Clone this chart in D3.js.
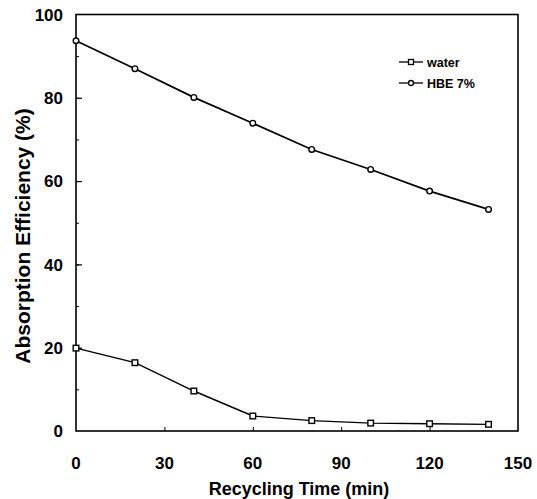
<!DOCTYPE html>
<html>
<head>
<meta charset="utf-8">
<script src="https://cdn.jsdelivr.net/npm/d3@7"></script>
<style>
  body { margin: 0; background: #fff; }
  svg { font-family: "Liberation Sans", Arial, sans-serif; }
</style>
</head>
<body>
<svg id="chart" width="537" height="499"></svg>
<script>
// values
var time = [0, 20, 40, 60, 80, 100, 120, 140];
var water = [19.9, 16.4, 9.6, 3.6, 2.5, 1.9, 1.75, 1.6];
var hbe = [93.7, 87.0, 80.1, 73.9, 67.6, 62.8, 57.6, 53.2];
var xTicks = [0, 30, 60, 90, 120, 150];
var yTicks = [0, 20, 40, 60, 80, 100];
var seriesNames = ["water", "HBE 7%"];

var svg = d3.select("#chart");
var x = d3.scaleLinear().domain([0, 150]).range([76, 518]);
var y = d3.scaleLinear().domain([0, 100]).range([431, 14.5]);

// frame
svg.append("rect")
    .attr("x", x(0)).attr("y", y(100))
    .attr("width", x(150) - x(0)).attr("height", y(0) - y(100))
    .attr("fill", "none").attr("stroke", "#000").attr("stroke-width", 1.6);

// y axis: inward ticks, labels on the left
var yAxis = svg.append("g").attr("transform", "translate(" + x(0) + ",0)")
    .call(d3.axisRight(y).tickValues(d3.range(10, 100, 10)).tickSize(3).tickFormat(""));
yAxis.select(".domain").remove();
yAxis.selectAll("line").attr("stroke-width", 1);
svg.append("g").attr("transform", "translate(" + x(0) + ",0)")
    .call(d3.axisRight(y).tickValues([20, 40, 60, 80]).tickSize(6).tickFormat(""))
    .call(function(g){ g.select(".domain").remove(); g.selectAll("line").attr("stroke-width", 1.2); });

svg.selectAll(".ylab").data(yTicks).enter().append("text")
    .attr("class", "ylab")
    .attr("x", 63).attr("y", function(d){ return y(d); })
    .attr("dy", "0.36em").attr("text-anchor", "end")
    .attr("font-size", 17).attr("font-weight", "bold")
    .text(function(d){ return d; });

// x axis: small inward ticks, labels below
svg.append("g").attr("transform", "translate(0," + y(0) + ")")
    .call(d3.axisTop(x).tickValues([30, 60, 90, 120]).tickSize(4).tickFormat(""))
    .call(function(g){ g.select(".domain").remove(); g.selectAll("line").attr("stroke-width", 1); });

svg.selectAll(".xlab").data(xTicks).enter().append("text")
    .attr("class", "xlab")
    .attr("x", function(d){ return x(d); }).attr("y", 469)
    .attr("text-anchor", "middle")
    .attr("font-size", 17).attr("font-weight", "bold")
    .text(function(d){ return d; });

svg.append("text")
    .attr("x", (x(0) + x(150)) / 2 + 2).attr("y", 495)
    .attr("text-anchor", "middle")
    .attr("font-size", 18).attr("font-weight", "bold")
    .text("Recycling Time (min)");

svg.append("text")
    .attr("transform", "translate(30,236) rotate(-90)")
    .attr("text-anchor", "middle")
    .attr("font-size", 21).attr("font-weight", "bold")
    .text("Absorption Efficiency (%)");

// lines
var line = d3.line()
    .x(function(d){ return x(d[0]); })
    .y(function(d){ return y(d[1]); });

var waterPts = d3.zip(time, water);
var hbePts = d3.zip(time, hbe);

svg.append("path").datum(hbePts).attr("d", line)
    .attr("fill", "none").attr("stroke", "#000").attr("stroke-width", 1.7);
svg.append("path").datum(waterPts).attr("d", line)
    .attr("fill", "none").attr("stroke", "#000").attr("stroke-width", 1.4);

svg.selectAll(".hbe").data(hbePts).enter().append("circle")
    .attr("class", "hbe")
    .attr("cx", function(d){ return x(d[0]); }).attr("cy", function(d){ return y(d[1]); })
    .attr("r", 2.8).attr("fill", "#fff").attr("stroke", "#000").attr("stroke-width", 1.4);

svg.selectAll(".wat").data(waterPts).enter().append("rect")
    .attr("class", "wat")
    .attr("x", function(d){ return x(d[0]) - 2.8; }).attr("y", function(d){ return y(d[1]) - 2.8; })
    .attr("width", 5.6).attr("height", 5.6)
    .attr("fill", "#fff").attr("stroke", "#000").attr("stroke-width", 1.4);

// legend
var legend = svg.append("g");
[62, 83].forEach(function(ly, i){
    legend.append("line").attr("x1", 399).attr("x2", 423).attr("y1", ly).attr("y2", ly)
        .attr("stroke", "#000").attr("stroke-width", 1.3);
    if (i === 0) {
        legend.append("rect").attr("x", 408.5).attr("y", ly - 2.5).attr("width", 5).attr("height", 5)
            .attr("fill", "#fff").attr("stroke", "#000").attr("stroke-width", 1.3);
    } else {
        legend.append("circle").attr("cx", 411).attr("cy", ly).attr("r", 2.5)
            .attr("fill", "#fff").attr("stroke", "#000").attr("stroke-width", 1.3);
    }
    legend.append("text").attr("x", 427).attr("y", ly).attr("dy", "0.36em")
        .attr("font-size", 12.5).attr("font-weight", "bold")
        .text(seriesNames[i]);
});
</script>
</body>
</html>
